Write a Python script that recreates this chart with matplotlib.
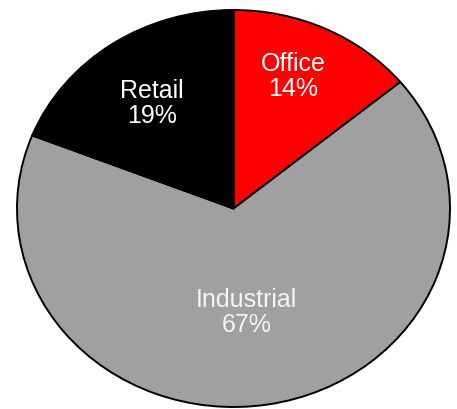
import matplotlib.pyplot as plt

plt.rcParams['font.family'] = ['Liberation Sans', 'DejaVu Sans']

categories = ['Office', 'Industrial', 'Retail']
shares = [14, 67, 19]
colors = ['#ff0000', '#a0a0a0', '#000000']
# label positions in pie coords (radius 1)
label_pos = [(0.275, 0.67), (0.06, -0.52), (-0.375, 0.535)]
label_colors = ['white', '#f4f4f4', 'white']

fig = plt.figure(figsize=(4.57, 4.10), dpi=100)
ax = fig.add_axes([17 / 457, 2 / 410, 433 / 457, 397 / 410])

ax.pie(shares, colors=colors, startangle=90, counterclock=False,
       wedgeprops={'edgecolor': 'black', 'linewidth': 1.4})
ax.set_aspect('auto')
ax.set_xlim(-1.0, 1.0)
ax.set_ylim(-1.0, 1.0)

for cat, val, (x, y), c in zip(categories, shares, label_pos, label_colors):
    ax.text(x, y, f'{cat}\n{val}%', ha='center', va='center', color=c,
            fontsize=18, linespacing=1.05)

plt.savefig('out.png', dpi=100)
